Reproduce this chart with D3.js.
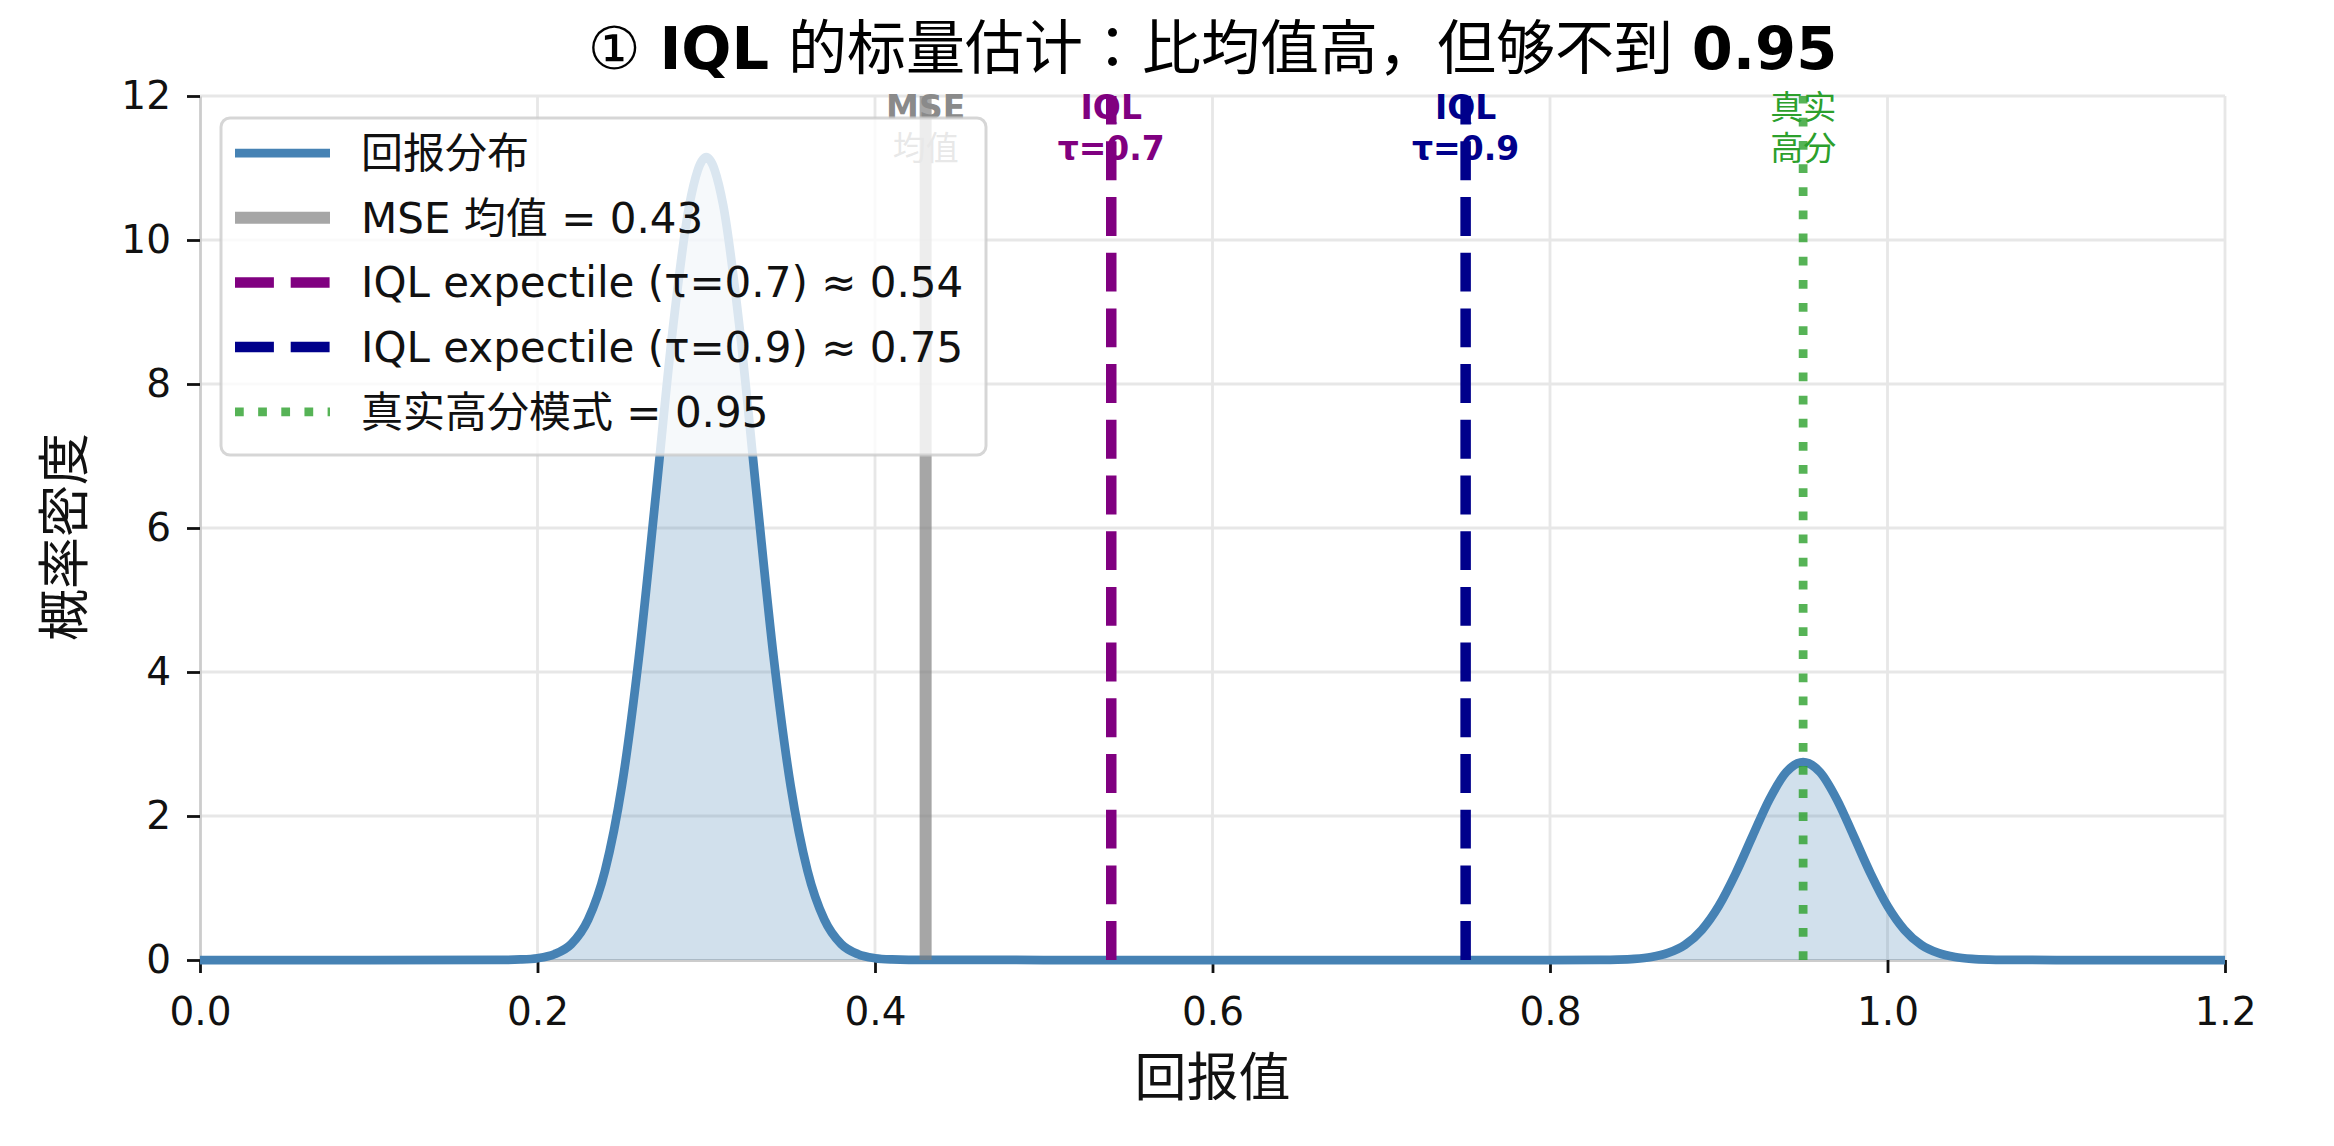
<!DOCTYPE html>
<html>
<head>
<meta charset="utf-8">
<script src="https://cdn.jsdelivr.net/npm/d3@7"></script>
<style>
  body { margin: 0; background: #fff; }
  text { font-family: "DejaVu Sans", "Noto Sans CJK JP", sans-serif; }
</style>
</head>
<body>
<script>
'use strict'

// ---- data ----
const xTicks = [0, 0.2, 0.4, 0.6, 0.8, 1.0, 1.2]
const yTicks = [0, 2, 4, 6, 8, 10, 12]

// return value -> density (two humps, around 0.30 and 0.95)
const returnX = [0, 0.1, 0.18, 0.19, 0.2, 0.21, 0.22, 0.23, 0.24, 0.25, 0.26, 0.27, 0.28, 0.29, 0.3,
    0.31, 0.32, 0.33, 0.34, 0.35, 0.36, 0.37, 0.38, 0.39, 0.4, 0.41, 0.42, 0.5, 0.6, 0.7, 0.8,
    0.83, 0.84, 0.85, 0.86, 0.87, 0.88, 0.89, 0.9, 0.91, 0.92, 0.93, 0.94, 0.95,
    0.96, 0.97, 0.98, 0.99, 1.0, 1.01, 1.02, 1.03, 1.04, 1.05, 1.06, 1.07, 1.1, 1.2]
const density = [0, 0, 0.002, 0.007, 0.025, 0.08, 0.22, 0.56, 1.24, 2.42, 4.19, 6.43, 8.73, 10.49, 11.15,
    10.49, 8.73, 6.43, 4.19, 2.42, 1.24, 0.56, 0.22, 0.08, 0.025, 0.007, 0.002, 0, 0, 0, 0,
    0.002, 0.005, 0.015, 0.041, 0.098, 0.21, 0.42, 0.75, 1.2, 1.72, 2.23, 2.61, 2.75,
    2.61, 2.23, 1.72, 1.2, 0.75, 0.42, 0.21, 0.098, 0.041, 0.015, 0.005, 0.002, 0, 0]

// vertical reference lines
const markerValues = [0.43, 0.54, 0.75, 0.95]
const markerLegend = ['MSE 均值 = 0.43', 'IQL expectile (τ=0.7) ≈ 0.54',
    'IQL expectile (τ=0.9) ≈ 0.75', '真实高分模式 = 0.95']
const markerTags = [['MSE', '均值'], ['IQL', 'τ=0.7'], ['IQL', 'τ=0.9'], ['真实', '高分']]
const curveLegend = '回报分布'

const titleParts = [
    { t: '① ', bold: false },
    { t: 'IQL', bold: true },
    { t: ' 的标量估计：比均值高，但够不到 ', bold: false },
    { t: '0.95', bold: true }
]

// ---- styles ----
const markerStyle = [
    { color: '#808080', opacity: 0.7, width: 12, dash: null, tagColor: '#8a8a8a', bold: true },
    { color: '#800080', opacity: 1, width: 10.5, dash: '38.9,16.8', tagColor: '#800080', bold: true },
    { color: '#00008b', opacity: 1, width: 10.5, dash: '38.9,16.8', tagColor: '#00008b', bold: true },
    { color: '#2ca02c', opacity: 0.8, width: 8.75, dash: '8.75,14.4', tagColor: '#2ca02c', bold: false }
]

const W = 2334, H = 1146
const plot = { left: 200, right: 2225, top: 96, bottom: 960 }

const svg = d3.select('body').append('svg')
    .attr('width', W)
    .attr('height', H)
    .style('display', 'block')

const x = d3.scaleLinear().domain([0, 1.2]).range([plot.left, plot.right])
const y = d3.scaleLinear().domain([0, 12]).range([plot.bottom, plot.top])

// grid
const grid = svg.append('g').attr('stroke', '#e7e7e7').attr('stroke-width', 2.8)
grid.selectAll('line.gx').data(xTicks.slice(1)).enter().append('line')
    .attr('x1', d => x(d)).attr('x2', d => x(d))
    .attr('y1', plot.top).attr('y2', plot.bottom)
grid.selectAll('line.gy').data(yTicks.slice(1)).enter().append('line')
    .attr('x1', plot.left).attr('x2', plot.right)
    .attr('y1', d => y(d)).attr('y2', d => y(d))

// axes
const xAxis = svg.append('g')
    .attr('transform', `translate(0,${plot.bottom})`)
    .call(d3.axisBottom(x).tickValues(xTicks).tickFormat(d3.format('.1f'))
        .tickSize(13).tickSizeOuter(0).tickPadding(24))
const yAxis = svg.append('g')
    .attr('transform', `translate(${plot.left},0)`)
    .call(d3.axisLeft(y).tickValues(yTicks).tickFormat(d3.format('d'))
        .tickSize(13).tickSizeOuter(0).tickPadding(16))

;[xAxis, yAxis].forEach(a => {
    a.select('.domain').attr('stroke', '#cccccc').attr('stroke-width', 2.8)
    a.selectAll('.tick line').attr('stroke', '#111').attr('stroke-width', 2.8)
    a.selectAll('.tick text')
        .attr('fill', '#111')
        .style('font-size', '39px')
        .style('font-family', '"DejaVu Sans", sans-serif')
})

// density fill + curve
const pts = returnX.map((v, i) => [v, density[i]])
svg.append('path')
    .datum(pts)
    .attr('fill', 'steelblue')
    .attr('fill-opacity', 0.25)
    .attr('d', d3.area().x(d => x(d[0])).y0(y(0)).y1(d => y(d[1])).curve(d3.curveMonotoneX))
svg.append('path')
    .datum(pts)
    .attr('fill', 'none')
    .attr('stroke', 'steelblue')
    .attr('stroke-width', 8.75)
    .attr('stroke-linejoin', 'round')
    .attr('d', d3.line().x(d => x(d[0])).y(d => y(d[1])).curve(d3.curveMonotoneX))

// vertical lines, drawn bottom -> top so dashes start at y=0
markerValues.forEach((v, i) => {
    const s = markerStyle[i]
    svg.append('line')
        .attr('x1', x(v)).attr('x2', x(v))
        .attr('y1', y(0)).attr('y2', y(12))
        .attr('stroke', s.color)
        .attr('stroke-opacity', s.opacity)
        .attr('stroke-width', s.width)
        .attr('stroke-dasharray', s.dash)
})

// tags above the lines
markerTags.forEach((tag, i) => {
    const s = markerStyle[i]
    const t = svg.append('text')
        .attr('x', x(markerValues[i]))
        .attr('text-anchor', 'middle')
        .attr('fill', s.tagColor)
        .style('font-size', '33px')
    tag.forEach((line, j) => {
        const cjk = /[\u4e00-\u9fff]/.test(line)
        t.append('tspan')
            .attr('x', x(markerValues[i]))
            .attr('y', 119 + j * 41)
            .style('font-weight', s.bold && !cjk ? 'bold' : 'normal')
            .text(line)
    })
})

// legend
const legend = svg.append('g')
legend.append('rect')
    .attr('x', 221).attr('y', 118)
    .attr('width', 765).attr('height', 337)
    .attr('rx', 9)
    .attr('fill', '#fff').attr('fill-opacity', 0.8)
    .attr('stroke', '#cccccc').attr('stroke-opacity', 0.8).attr('stroke-width', 3)

const rowY = i => 153 + i * 64.7
const legendRows = [{ label: curveLegend, style: { color: 'steelblue', opacity: 1, width: 8.75, dash: null } }]
    .concat(markerLegend.map((l, i) => ({ label: l, style: markerStyle[i] })))

legendRows.forEach((r, i) => {
    legend.append('line')
        .attr('x1', 235).attr('x2', 330)
        .attr('y1', rowY(i)).attr('y2', rowY(i))
        .attr('stroke', r.style.color)
        .attr('stroke-opacity', r.style.opacity)
        .attr('stroke-width', r.style.width)
        .attr('stroke-dasharray', r.style.dash)
    legend.append('text')
        .attr('x', 361)
        .attr('y', rowY(i) + 15)
        .attr('fill', '#111')
        .style('font-size', '42px')
        .text(r.label)
})

// title
const title = svg.append('text')
    .attr('x', (plot.left + plot.right) / 2)
    .attr('y', 69)
    .attr('text-anchor', 'middle')
    .attr('fill', '#000')
    .style('font-size', '59px')
titleParts.forEach(p => {
    title.append('tspan')
        .style('font-weight', p.bold ? 'bold' : 'normal')
        .text(p.t)
})

// axis labels
svg.append('text')
    .attr('x', (plot.left + plot.right) / 2)
    .attr('y', 1096)
    .attr('text-anchor', 'middle')
    .attr('fill', '#111')
    .style('font-size', '52px')
    .text('回报值')

svg.append('text')
    .attr('transform', `translate(65,${(plot.top + plot.bottom) / 2 + 9}) rotate(-90)`)
    .attr('text-anchor', 'middle')
    .attr('dominant-baseline', 'central')
    .attr('fill', '#111')
    .style('font-size', '52px')
    .text('概率密度')
</script>
</body>
</html>
